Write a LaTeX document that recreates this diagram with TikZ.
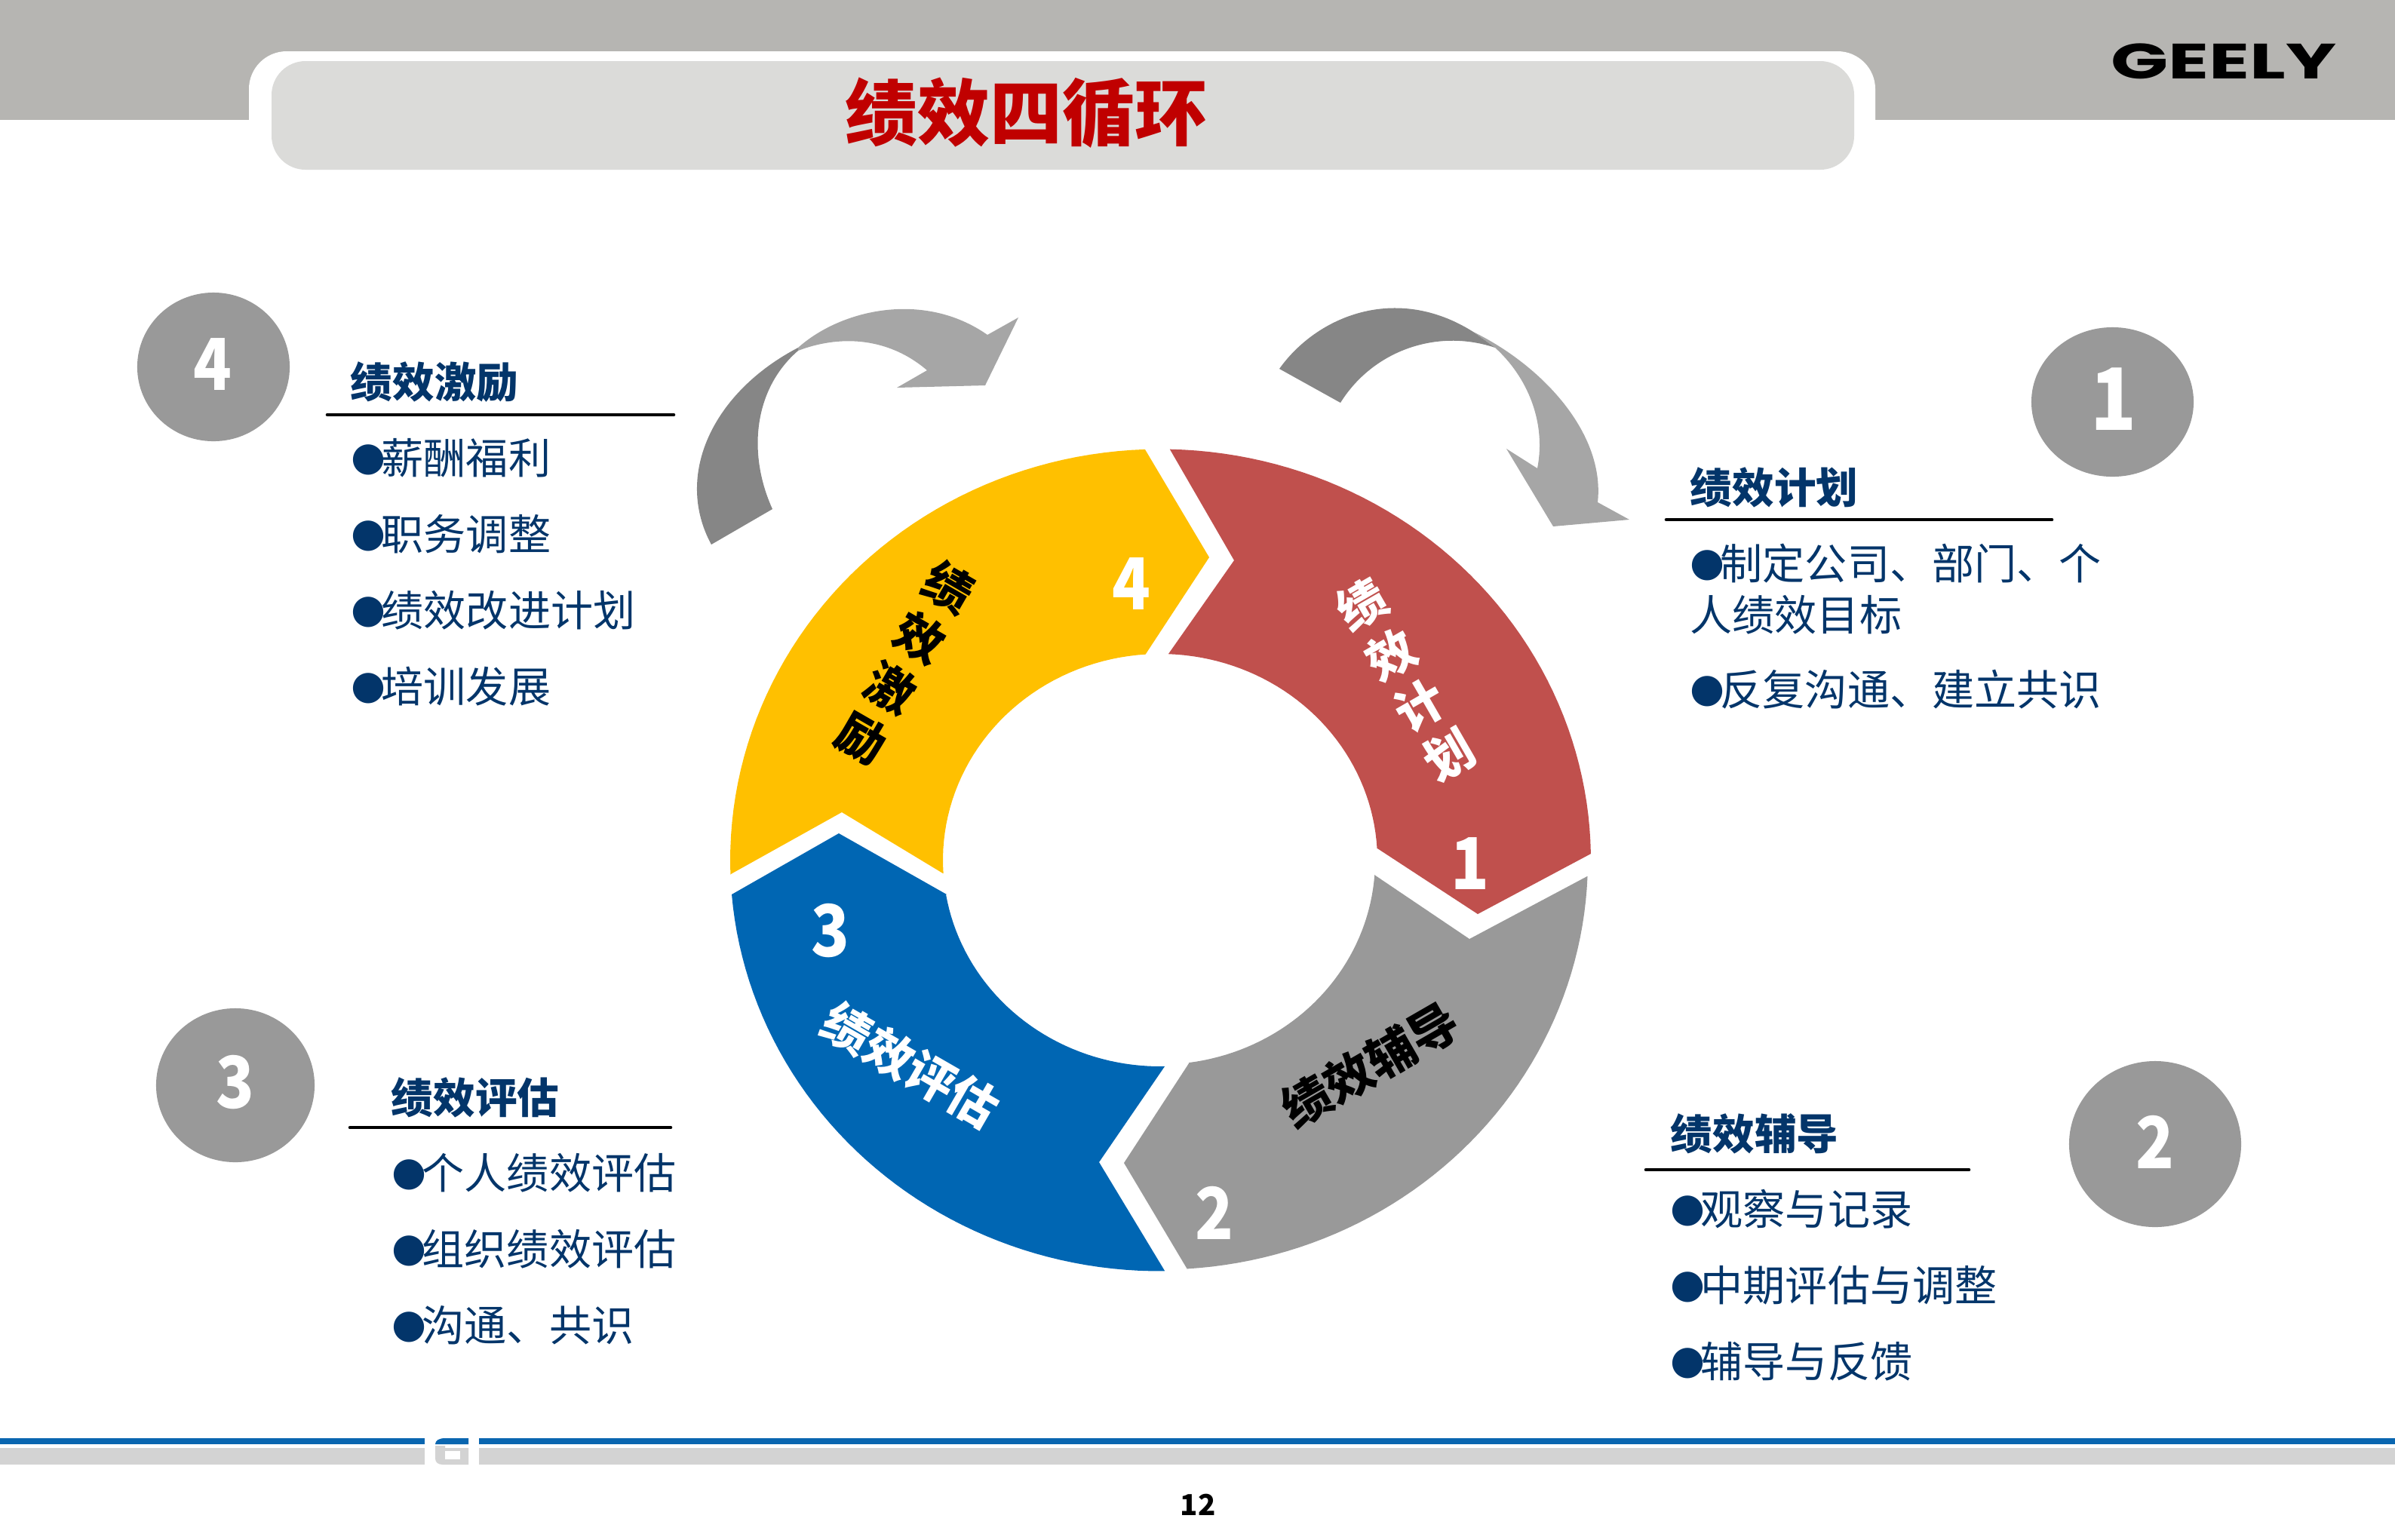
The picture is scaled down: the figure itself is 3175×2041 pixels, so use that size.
\documentclass[tikz,border=0pt]{standalone}
\usepackage{fontspec}
\usepackage{graphicx}
\setmainfont{Noto Sans CJK SC}
\newfontfamily\dvfont{DejaVu Sans}
\newfontfamily\logofont{Poppins}
\definecolor{bandgrey}{HTML}{B6B5B2}
\definecolor{titlegrey}{HTML}{DBDBD9}
\definecolor{titlered}{HTML}{C00000}
\definecolor{navy}{HTML}{03356A}
\definecolor{segred}{HTML}{C0504D}
\definecolor{seggrey}{HTML}{999999}
\definecolor{segblue}{HTML}{0066B3}
\definecolor{segyellow}{HTML}{FFC000}
\definecolor{arrowdark}{HTML}{868686}
\definecolor{arrowlight}{HTML}{A6A6A6}
\definecolor{footgrey}{HTML}{D3D3D3}
\definecolor{footblue}{HTML}{0A66B0}
\newcommand{\bul}{\raisebox{1.4pt}{\dvfont\fontsize{15}{15}\selectfont ●}\kern-1.7pt}
\newcommand{\dgt}[1]{\scalebox{.88}[1]{#1}}
\tikzset{
  badge/.style={ellipse,fill=seggrey,inner sep=0pt},
  badgenum/.style={inner sep=0pt,text=white,font=\fontsize{27}{27}\selectfont\bfseries},
  heading/.style={inner sep=0pt,text=navy,font=\fontsize{15.8}{15.8}\selectfont\bfseries},
  listitem/.style={anchor=base west,inner sep=0pt,text=navy,font=\fontsize{15.95}{19.2}\selectfont},
  rule/.style={line width=1.3pt,line cap=round,black},
  segnum/.style={inner sep=0pt,text=white,font=\fontsize{27}{27}\selectfont\bfseries},
  seglabel/.style={inner sep=0pt,font=\fontsize{18.3}{18.3}\selectfont\bfseries},
  stacklabel/.style={inner sep=0pt,align=center,font=\fontsize{18.3}{21.9}\selectfont\bfseries}
}
\usetikzlibrary{shapes.geometric}
\begin{document}
\begin{tikzpicture}[x=0.01cm,y=-0.01cm]
\useasboundingbox (0,0) rectangle (3175,2041);
% header
\fill[bandgrey] (0,0) rectangle (3175,159);
\fill[white,rounded corners=0.5cm] (330,68) rectangle (2486,240);
\fill[titlegrey,rounded corners=0.45cm] (360,81) rectangle (2458,225);
\node[inner sep=0pt,text=titlered,font=\fontsize{27.3}{27.3}\selectfont\bfseries] (title) at (1360,150) {绩效四循环};
\node[inner sep=0pt,text=black,font=\logofont\fontsize{18.7}{18.7}\selectfont\bfseries] (logo) at (2948,81) {\scalebox{1.52}[1]{GEELY}};
% footer
\fill[footblue] (0,1907) rectangle (563,1915);
\fill[footblue] (635,1907) rectangle (3175,1915);
\fill[footgrey] (0,1920) rectangle (563,1942);
\fill[footgrey] (635,1920) rectangle (3175,1942);
\fill[footblue] (621,1907) -- (590,1907) .. controls (582,1907) and (577,1910) .. (577,1915) -- (621,1915) -- cycle;
\fill[footgrey] (577,1917) -- (577,1934) .. controls (577,1939) and (581,1942) .. (587,1942) -- (621,1942) -- (621,1920) -- (590,1920) -- (590,1917) -- cycle;
\fill[white] (590,1924) rectangle (610,1935);
\node[inner sep=0pt,text=black,font=\fontsize{10.9}{10.9}\selectfont\bfseries] (page) at (1588,1995) {12};
% ring
\fill[segred] (1551,596) -- plot[domain=88.7:0.9,samples=50] ({1538+571*cos(\x)},{1140.5-545*sin(\x)}) -- (2109,1132) -- (1959,1212) -- (1826,1125) -- plot[domain=3.2:87.8,samples=40] ({1538+288*cos(\x)},{1140.5-273.5*sin(\x)}) -- (1549,867) -- (1636,743) -- cycle;
\fill[seggrey] (2104,1162) -- plot[domain=-2.3:-86.4,samples=50] ({1538+567*cos(\x)},{1140.5-543*sin(\x)}) -- (1574,1683) -- (1490,1542) -- (1576,1410) -- plot[domain=-82.3:-4.1,samples=40] ({1538+285*cos(\x)},{1140.5-271*sin(\x)}) -- (1822,1160) -- (1948,1245) -- cycle;
\fill[segblue] (970,1186) -- plot[domain=-175.2:-89.4,samples=50] ({1538+570*cos(\x)},{1140.5-545*sin(\x)}) -- (1544,1685) -- (1457,1541) -- (1544,1414) -- plot[domain=-88.8:-170.4,samples=40] ({1538+288*cos(\x)},{1140.5-273.5*sin(\x)}) -- (1255,1186) -- (1112,1105) -- cycle;
\fill[segyellow] (1518,596) -- plot[domain=92:182,samples=50] ({1538+570*cos(\x)},{1140.5-545*sin(\x)}) -- (968,1159.5) -- (1116,1077) -- (1250,1158) -- plot[domain=183.7:93.8,samples=40] ({1538+288*cos(\x)},{1140.5-273.5*sin(\x)}) -- (1519,867) -- (1603,739) -- cycle;
\node[segnum] (n1) at (1949,1145) {\dgt{1}};
\node[segnum] (n2) at (1610,1608) {\dgt{2}};
\node[segnum] (n3) at (1101,1234) {\dgt{3}};
\node[segnum] (n4) at (1500,774) {\dgt{4}};
\node[stacklabel,text=white,rotate=30] (lab1) at (1863,901.5) {绩\\效\\计\\划};
\node[seglabel,text=black,rotate=30] (lab2) at (1816,1412) {绩效辅导};
\node[seglabel,text=white,rotate=-30] (lab3) at (1207,1412) {绩效评估};
\node[stacklabel,text=black,rotate=-30] (lab4) at (1200,879) {绩\\效\\激\\励};
% curved arrows
\fill[arrowlight] (1953,440) .. controls (2045,485) and (2128,575) .. (2118,666) -- (2160,689) -- (2059,698) -- (1997,595) -- (2038,621) .. controls (2050,560) and (2025,500) .. (1982,461) -- cycle;
\fill[arrowdark] (1696,489) .. controls (1745,420) and (1850,375) .. (1953,440) -- (1982,461) .. controls (1905,435) and (1820,465) .. (1777,534) -- cycle;
\fill[arrowlight] (1058,461) .. controls (1115,410) and (1225,385) .. (1309,444) -- (1350,421) -- (1306,511) -- (1189,514) -- (1229,491) .. controls (1175,445) and (1110,445) .. (1058,465) -- cycle;
\fill[arrowdark] (943,722) .. controls (893,630) and (945,520) .. (1058,461) -- (1058,465) .. controls (1000,515) and (990,600) .. (1024,675) -- cycle;
% badges
\node[badge,minimum width=2.02cm,minimum height=1.97cm] (b4) at (283,486.5) {};
\node[badgenum] (d4) at (282,483) {\dgt{4}};
\node[badge,minimum width=2.15cm,minimum height=1.98cm] (b1) at (2800.5,533) {};
\node[badgenum,font=\fontsize{32.4}{32.4}\selectfont\bfseries] (d1) at (2802,529) {\dgt{1}};
\node[badge,minimum width=2.10cm,minimum height=2.04cm] (b3) at (312,1439) {};
\node[badgenum] (d3) at (312,1435) {\dgt{3}};
\node[badge,minimum width=2.28cm,minimum height=2.20cm] (b2) at (2857,1517) {};
\node[badgenum] (d2) at (2857,1514) {\dgt{2}};
% block 4
\node[heading] (h4) at (576,506.5) {绩效激励};
\coordinate (r4a) at (434,550); \coordinate (r4b) at (893,550);
\draw[rule] (r4a) -- (r4b);
\node[listitem] (i41) at (465,628) {\bul 薪酬福利};
\node[listitem] (i42) at (465,729) {\bul 职务调整};
\node[listitem] (i43) at (465,830) {\bul 绩效改进计划};
\node[listitem] (i44) at (465,931) {\bul 培训发展};
% block 1
\node[heading] (h1) at (2352,646) {绩效计划};
\coordinate (r1a) at (2209,689); \coordinate (r1b) at (2720,689);
\draw[rule] (r1a) -- (r1b);
\node[listitem,anchor=west,align=left] (i11) at (2240,781) {\bul 制定公司、部门、个\\人绩效目标};
\node[listitem] (i12) at (2240,935) {\bul 反复沟通、建立共识};
% block 3
\node[heading] (h3) at (630,1455) {绩效评估};
\coordinate (r3a) at (464,1495); \coordinate (r3b) at (889,1495);
\draw[rule] (r3a) -- (r3b);
\node[listitem] (i31) at (519,1576) {\bul 个人绩效评估};
\node[listitem] (i32) at (519,1677) {\bul 组织绩效评估};
\node[listitem] (i33) at (519,1778) {\bul 沟通、共识};
% block 2
\node[heading] (h2) at (2326,1503) {绩效辅导};
\coordinate (r2a) at (2182,1551); \coordinate (r2b) at (2610,1551);
\draw[rule] (r2a) -- (r2b);
\node[listitem] (i21) at (2214,1624) {\bul 观察与记录};
\node[listitem] (i22) at (2214,1725) {\bul 中期评估与调整};
\node[listitem] (i23) at (2214,1826) {\bul 辅导与反馈};
\end{tikzpicture}
\end{document}
